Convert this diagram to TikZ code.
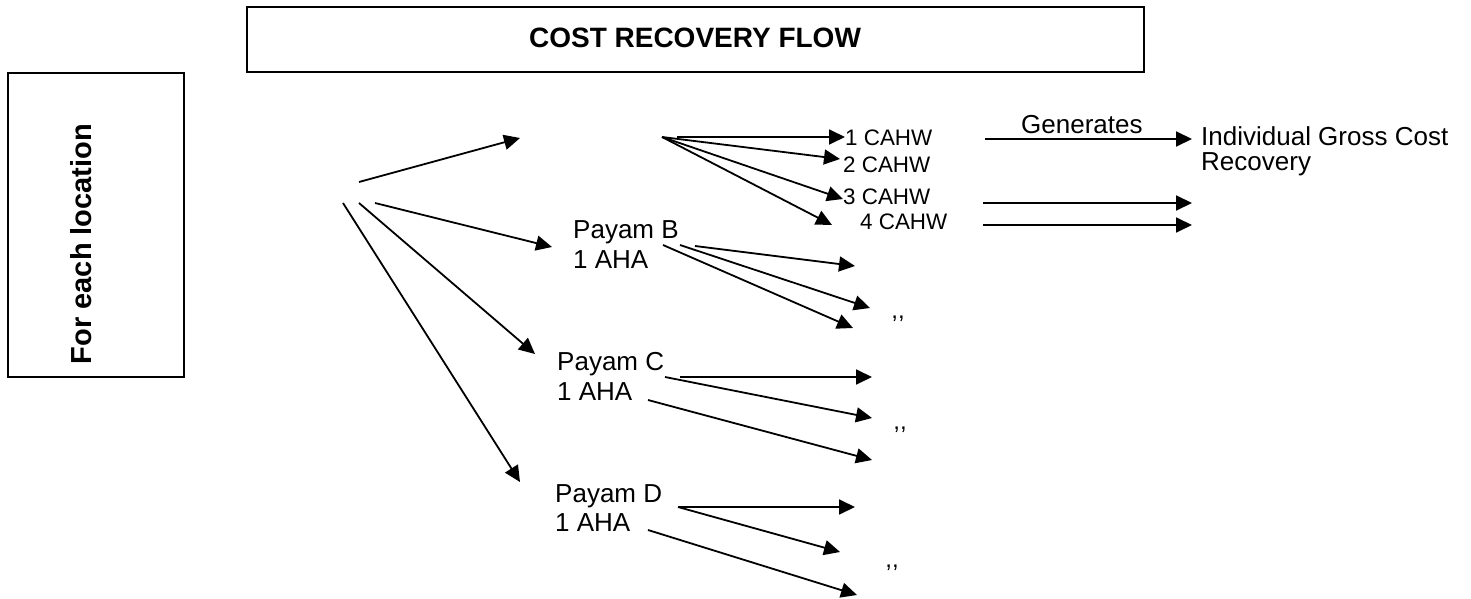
\documentclass[tikz,border=0pt]{standalone}
\usepackage{fontspec}
\setmainfont{Liberation Sans}
\usetikzlibrary{arrows.meta}
\begin{document}
\begin{tikzpicture}[x=1pt,y=-1pt,
  conn/.style={line width=1.8pt,-{Triangle[length=16pt,width=15pt]}},
  boxframe/.style={draw,line width=2.2pt,inner sep=0pt},
  lbl/.style={inner sep=0pt,anchor=base west,font=\fontsize{26}{30}\selectfont},
  small/.style={inner sep=0pt,anchor=base west,font=\fontsize{22.4}{27}\selectfont},
  ditto/.style={inner sep=0pt,anchor=base,font=\fontsize{24}{28}\selectfont}]
\useasboundingbox (0,0) rectangle (1471,599);

% boxes
\node[boxframe,minimum width=897pt,minimum height=65pt] (title) at (695.5,39.5) {};
\node[inner sep=0pt,font=\fontsize{28}{32}\selectfont\bfseries] (titletext) at (695,38) {COST RECOVERY FLOW};
\node[boxframe,minimum width=176pt,minimum height=304pt] (locbox) at (96,225) {};
\node[inner sep=0pt,rotate=90,font=\fontsize{29}{34}\selectfont\bfseries] (loctext) at (81,244) {For each location};

% texts
\node[lbl] (pB1) at (573,238) {Payam B};
\node[lbl] (pB2) at (573,268) {1 AHA};
\node[lbl] (pC1) at (557,370) {Payam C};
\node[lbl] (pC2) at (557,400) {1 AHA};
\node[lbl] (pD1) at (555,502) {Payam D};
\node[lbl] (pD2) at (555,531) {1 AHA};
\node[small] (c1) at (845,146) {1 CAHW};
\node[small] (c2) at (843,172) {2 CAHW};
\node[small] (c3) at (843,204) {3 CAHW};
\node[small] (c4) at (860,229) {4 CAHW};
\node[lbl] (gen) at (1021,133) {Generates};
\node[lbl] (ind1) at (1201,146) {Individual Gross Cost};
\node[lbl] (ind2) at (1201,170) {Recovery};
\node[ditto] (dB) at (898,318) {,{},};
\node[ditto] (dC) at (900,429) {,{},};
\node[ditto] (dD) at (892,567) {,{},};

% coordinates
\coordinate (m1s) at (359,182); \coordinate (m1e) at (520,138);
\coordinate (m2s) at (375,203); \coordinate (m2e) at (552,247);
\coordinate (m3s) at (359,203); \coordinate (m3e) at (535,354);
\coordinate (m4s) at (343,203); \coordinate (m4e) at (520,482);

\coordinate (fa) at (662,137); \coordinate (fb) at (677,137);
\coordinate (f1) at (845,137); \coordinate (f2) at (840,159);
\coordinate (f3) at (843,199); \coordinate (f4) at (832,225);

\coordinate (g1s) at (985,139); \coordinate (g1e) at (1192,139);
\coordinate (g3s) at (983,203); \coordinate (g3e) at (1192,203);
\coordinate (g4s) at (983,225); \coordinate (g4e) at (1192,225);

\coordinate (b1s) at (695,246); \coordinate (b1e) at (855,266);
\coordinate (b2s) at (680,245); \coordinate (b2e) at (870,308);
\coordinate (b3s) at (663,245); \coordinate (b3e) at (853,328);

\coordinate (cc1s) at (680,377); \coordinate (cc1e) at (872,377);
\coordinate (cc2s) at (665,377); \coordinate (cc2e) at (872,418);
\coordinate (cc3s) at (648,400); \coordinate (cc3e) at (872,460);

\coordinate (d1s) at (678,507); \coordinate (d1e) at (855,507);
\coordinate (d2s) at (678,507); \coordinate (d2e) at (840,552);
\coordinate (d3s) at (648,530); \coordinate (d3e) at (857,595);

% connectors
\draw[conn] (m1s) -- (m1e);
\draw[conn] (m2s) -- (m2e);
\draw[conn] (m3s) -- (m3e);
\draw[conn] (m4s) -- (m4e);

\draw[conn] (fb) -- (f1);
\draw[conn] (fa) -- (f2);
\draw[conn] (fa) -- (f3);
\draw[conn] (fa) -- (f4);

\draw[conn] (g1s) -- (g1e);
\draw[conn] (g3s) -- (g3e);
\draw[conn] (g4s) -- (g4e);

\draw[conn] (b1s) -- (b1e);
\draw[conn] (b2s) -- (b2e);
\draw[conn] (b3s) -- (b3e);

\draw[conn] (cc1s) -- (cc1e);
\draw[conn] (cc2s) -- (cc2e);
\draw[conn] (cc3s) -- (cc3e);

\draw[conn] (d1s) -- (d1e);
\draw[conn] (d2s) -- (d2e);
\draw[conn] (d3s) -- (d3e);
\end{tikzpicture}
\end{document}
